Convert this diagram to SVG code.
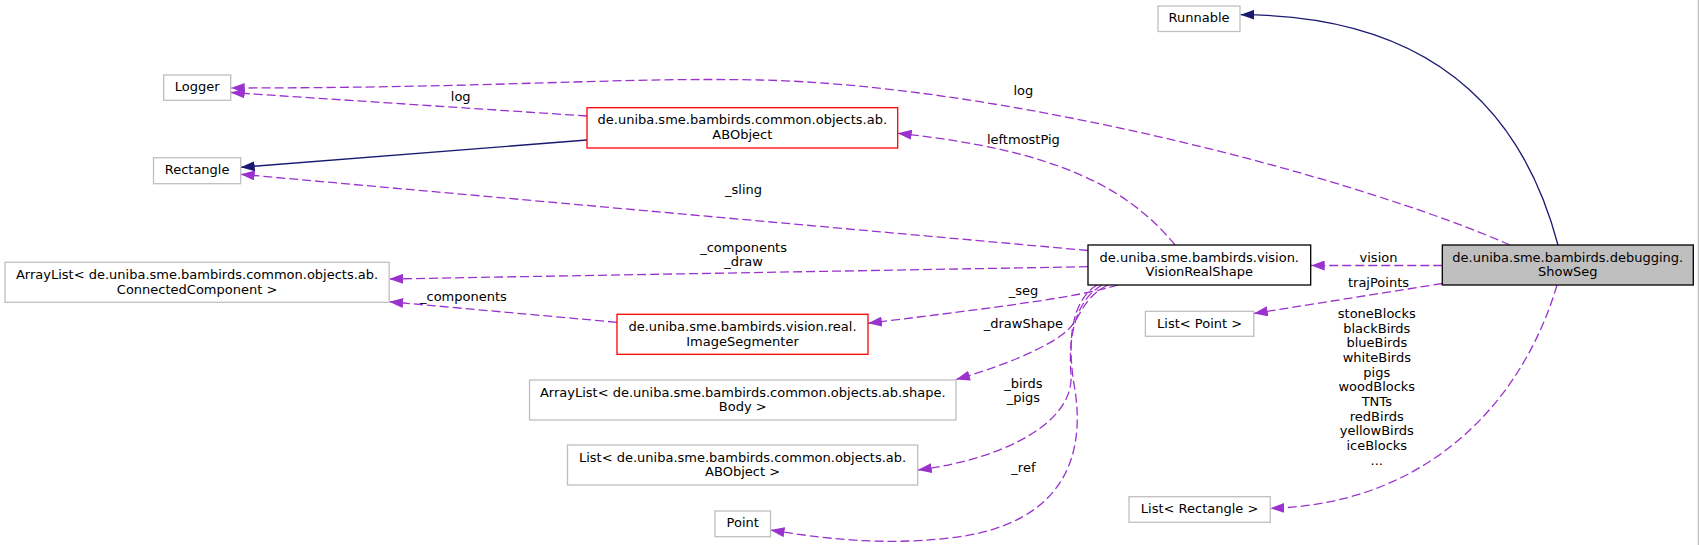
<svg xmlns="http://www.w3.org/2000/svg" width="1699" height="545" viewBox="0 0 1699 545">
<style>
text{font-family:"DejaVu Sans","Liberation Sans",sans-serif;font-size:13px;fill:#000;text-anchor:middle}
.box{fill:#fff;stroke:#bfbfbf;stroke-width:1.3}
.red{fill:#fff;stroke:#ff0000;stroke-width:1.3}
.blk{fill:#fff;stroke:#000;stroke-width:1.3}
.main{fill:#bfbfbf;stroke:#000;stroke-width:1.3}
.inh{fill:none;stroke:#191970;stroke-width:1.3;marker-end:url(#aN)}
.use{fill:none;stroke:#9a32cd;stroke-width:1.3;stroke-dasharray:9,4;marker-end:url(#aO)}
</style>
<defs>
<marker id="aN" viewBox="0 0 14 10" refX="14" refY="5" markerWidth="14" markerHeight="10" markerUnits="userSpaceOnUse" orient="auto"><path d="M0,0 L14,5 L0,10 Z" fill="#191970"/></marker>
<marker id="aO" viewBox="0 0 14 10" refX="14" refY="5" markerWidth="14" markerHeight="10" markerUnits="userSpaceOnUse" orient="auto"><path d="M0,0 L14,5 L0,10 Z" fill="#9a32cd"/></marker>
</defs>
<rect width="1699" height="545" fill="#fff"/>
<line x1="1698.3" y1="0" x2="1698.3" y2="545" stroke="#b0b0b0" stroke-width="1"/>

<g id="connectors">
<path class="inh" d="M1558,245 C1525,120 1440,15 1240.5,14.7"/>
<path class="use" d="M1510,245 C1350,175 1000,85 760,80 C620,77 500,88 230.7,88"/>
<text x="1023.4" y="94.5">log</text>
<path class="use" d="M587,116 L230.7,92.5"/>
<text x="460.7" y="100.5">log</text>
<path class="inh" d="M587,140 L240.7,167.3"/>
<path class="use" d="M1088,250.5 L240.7,174.3"/>
<text x="743.6" y="193.5">_sling</text>
<path class="use" d="M1088,266.7 L389.2,279"/>
<text x="743.6" y="251.5">_components</text>
<text x="743.6" y="266.2">_draw</text>
<path class="use" d="M1175,245 C1130,190 1060,150 897.7,133.3"/>
<text x="1023.4" y="143.5">leftmostPig</text>
<path class="use" d="M617,322.3 L389.2,301.7"/>
<text x="463.4" y="300.5">_components</text>
<path class="use" d="M1118,285 C1080,297 1000,307 868,323.3"/>
<text x="1023.4" y="294.5">_seg</text>
<path class="use" d="M1108,285 C1082,298 1082,316 1068,330 C1048,348 1000,367 956,379.5"/>
<text x="1023.4" y="327.5">_drawShape</text>
<path class="use" d="M1102,285 C1076,300 1068,335 1071,375 C1074,420 1010,458 917.7,470"/>
<text x="1023.4" y="387.5">_birds</text>
<text x="1023.4" y="402.2">_pigs</text>
<path class="use" d="M1097,285 C1072,300 1066,340 1075,390 C1085,455 1065,525 950,538 C880,546 820,538 770.5,530"/>
<text x="1023.4" y="471.5">_ref</text>
<path class="use" d="M1442.3,265.5 L1310.7,265.5"/>
<text x="1378.5" y="262">vision</text>
<path class="use" d="M1442.3,283.5 L1253.8,313.5"/>
<text x="1378.5" y="286.5">trajPoints</text>
<path class="use" d="M1557,285 C1520,410 1420,505 1270.3,508.3"/>
<text x="1376.8" y="318">stoneBlocks</text>
<text x="1376.8" y="332.7">blackBirds</text>
<text x="1376.8" y="347.3">blueBirds</text>
<text x="1376.8" y="362">whiteBirds</text>
<text x="1376.8" y="376.7">pigs</text>
<text x="1376.8" y="391.3">woodBlocks</text>
<text x="1376.8" y="406">TNTs</text>
<text x="1376.8" y="420.7">redBirds</text>
<text x="1376.8" y="435.3">yellowBirds</text>
<text x="1376.8" y="450">iceBlocks</text>
<text x="1376.8" y="464.7">...</text>
</g>

<g id="node-runnable"><rect class="box" x="1158" y="6" width="82" height="25.5"/><text x="1199" y="22.2">Runnable</text></g>
<g id="node-logger"><rect class="box" x="163.7" y="75" width="67" height="25.3"/><text x="197.2" y="91">Logger</text></g>
<g id="node-rectangle"><rect class="box" x="153.5" y="157.7" width="87.2" height="26"/><text x="197.1" y="174">Rectangle</text></g>
<g id="node-abobject"><rect class="red" x="587" y="107.7" width="310.7" height="40.3"/><text x="742.3" y="124.2">de.uniba.sme.bambirds.common.objects.ab.</text><text x="742.3" y="138.9">ABObject</text></g>
<g id="node-visionrealshape"><rect class="blk" x="1088" y="245" width="222.7" height="40"/><text x="1199.3" y="261.5">de.uniba.sme.bambirds.vision.</text><text x="1199.3" y="276.2">VisionRealShape</text></g>
<g id="node-showseg"><rect class="main" x="1442.3" y="245" width="251" height="40"/><text x="1567.8" y="261.5">de.uniba.sme.bambirds.debugging.</text><text x="1567.8" y="276.2">ShowSeg</text></g>
<g id="node-arraylist-cc"><rect class="box" x="5" y="262.3" width="384.2" height="40"/><text x="197.1" y="278.8">ArrayList&lt; de.uniba.sme.bambirds.common.objects.ab.</text><text x="197.1" y="293.5">ConnectedComponent &gt;</text></g>
<g id="node-imagesegmenter"><rect class="red" x="617" y="314.3" width="251" height="40"/><text x="742.5" y="330.8">de.uniba.sme.bambirds.vision.real.</text><text x="742.5" y="345.5">ImageSegmenter</text></g>
<g id="node-arraylist-body"><rect class="box" x="529.5" y="380" width="426.5" height="40"/><text x="742.75" y="396.5">ArrayList&lt; de.uniba.sme.bambirds.common.objects.ab.shape.</text><text x="742.75" y="411.2">Body &gt;</text></g>
<g id="node-list-abobject"><rect class="box" x="567.5" y="445" width="350.2" height="40"/><text x="742.6" y="461.5">List&lt; de.uniba.sme.bambirds.common.objects.ab.</text><text x="742.6" y="476.2">ABObject &gt;</text></g>
<g id="node-point"><rect class="box" x="715" y="511" width="55.5" height="25.7"/><text x="742.75" y="527.3">Point</text></g>
<g id="node-list-point"><rect class="box" x="1145.4" y="311.3" width="108.4" height="25"/><text x="1199.6" y="327.5">List&lt; Point &gt;</text></g>
<g id="node-list-rectangle"><rect class="box" x="1129" y="496.7" width="141.3" height="25.6"/><text x="1199.6" y="513">List&lt; Rectangle &gt;</text></g>
</svg>
